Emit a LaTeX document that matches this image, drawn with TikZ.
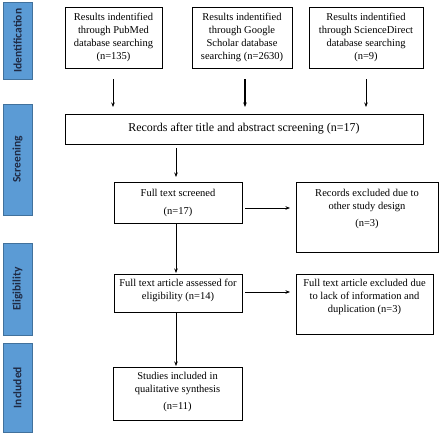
\documentclass[tikz,border=0pt]{standalone}
\usepackage{fontspec}
\setmainfont{Liberation Serif}
\newfontfamily\barfont{Carlito}
\usetikzlibrary{arrows.meta}
\definecolor{barblue}{HTML}{5B9BD5}
\definecolor{baredge}{HTML}{41719C}
\definecolor{bartext}{HTML}{1F2A44}
\tikzset{
  phasebar/.style={draw=baredge, fill=barblue, line width=0.6pt},
  phaselabel/.style={rotate=90, font=\barfont\bfseries\fontsize{11.5}{13}\selectfont, text=bartext},
  flowbox/.style={draw=black, line width=0.8pt},
  boxtext/.style={align=center, font=\fontsize{10.5}{12.8}\selectfont, inner sep=0pt},
  flowarrow/.style={-{Stealth[length=4.5pt,width=3.5pt]}, line width=0.6pt},
}
\begin{document}
\begin{tikzpicture}[x=1pt,y=-1pt]
\useasboundingbox (0,0) rectangle (440,437);
% phase bars
\draw[phasebar] (3,2) rectangle (32,79);
\node[phaselabel] (lid) at (17.5,40.5) {Identification};
\draw[phasebar] (3,104) rectangle (32,215);
\node[phaselabel] (lsc) at (17.5,159.5) {Screening};
\draw[phasebar] (3,243) rectangle (32,335);
\node[phaselabel] (lel) at (17.5,289) {Eligibility};
\draw[phasebar] (3,343) rectangle (32,432);
\node[phaselabel] (lin) at (17.5,387.5) {Included};
% identification boxes
\draw[flowbox] (65,7) rectangle (162,68);
\node[boxtext] (pub) at (113.5,37.5) {Results indentified\\through PubMed\\database searching\\(n=135)};
\draw[flowbox] (192,7) rectangle (292,68);
\node[boxtext] (goo) at (242,37.5) {Results indentified\\through Google\\Scholar database\\searching (n=2630)};
\draw[flowbox] (309,7) rectangle (423,68);
\node[boxtext] (sci) at (366,37.5) {Results indentified\\through ScienceDirect\\database searching\\(n=9)};
% records
\draw[flowbox] (65,114) rectangle (423,144);
\node[boxtext, font=\fontsize{12}{14}\selectfont] (rec) at (244,129) {Records after title\ and abstract screening (n=17)};
% arrow anchor coordinates
\coordinate (a1s) at (113,79); \coordinate (a1e) at (113,107);
\coordinate (a2s) at (245,79); \coordinate (a2e) at (245,107);
\coordinate (a3s) at (366,79); \coordinate (a3e) at (366,107);
\draw[flowarrow] (a1s) -- (a1e);
\draw[flowarrow, line width=1.1pt] (a2s) -- (a2e);
\draw[flowarrow] (a3s) -- (a3e);
% full text screened
\draw[flowbox] (114,182) rectangle (242,223);
\node[boxtext] (fts) at (178,203) {Full text screened\\[6pt](n=17)};
\draw[flowbox] (296,182) rectangle (438,252);
\node[boxtext, anchor=north] (rex) at (367,189) {Records excluded due\ to\\other study design\\[4pt](n=3)};
\coordinate (b1s) at (176,148); \coordinate (b1e) at (176,177);
\draw[flowarrow] (b1s) -- (b1e);
\coordinate (b2s) at (245,208); \coordinate (b2e) at (290,208);
\draw[flowarrow] (b2s) -- (b2e);
% eligibility
\draw[flowbox] (114,274) rectangle (242,312);
\node[boxtext] (fta) at (178,290.5) {Full text article assessed for\\eligibility (n=14)};
\draw[flowbox] (296,274) rectangle (433,334);
\node[boxtext, anchor=north] (tex) at (364.5,279) {Full text article excluded due\\to lack of information and\\duplication (n=3)};
\coordinate (c1s) at (176,223); \coordinate (c1e) at (176,273);
\draw[flowarrow] (c1s) -- (c1e);
\coordinate (c2s) at (245,292); \coordinate (c2e) at (290,292);
\draw[flowarrow] (c2s) -- (c2e);
% included
\draw[flowbox] (113,367) rectangle (242,420);
\node[boxtext, anchor=north] (inc) at (177.5,372) {Studies included in\\qualitative synthesis\\[4pt](n=11)};
\coordinate (d1s) at (176,312); \coordinate (d1e) at (176,366);
\draw[flowarrow] (d1s) -- (d1e);
\end{tikzpicture}
\end{document}
